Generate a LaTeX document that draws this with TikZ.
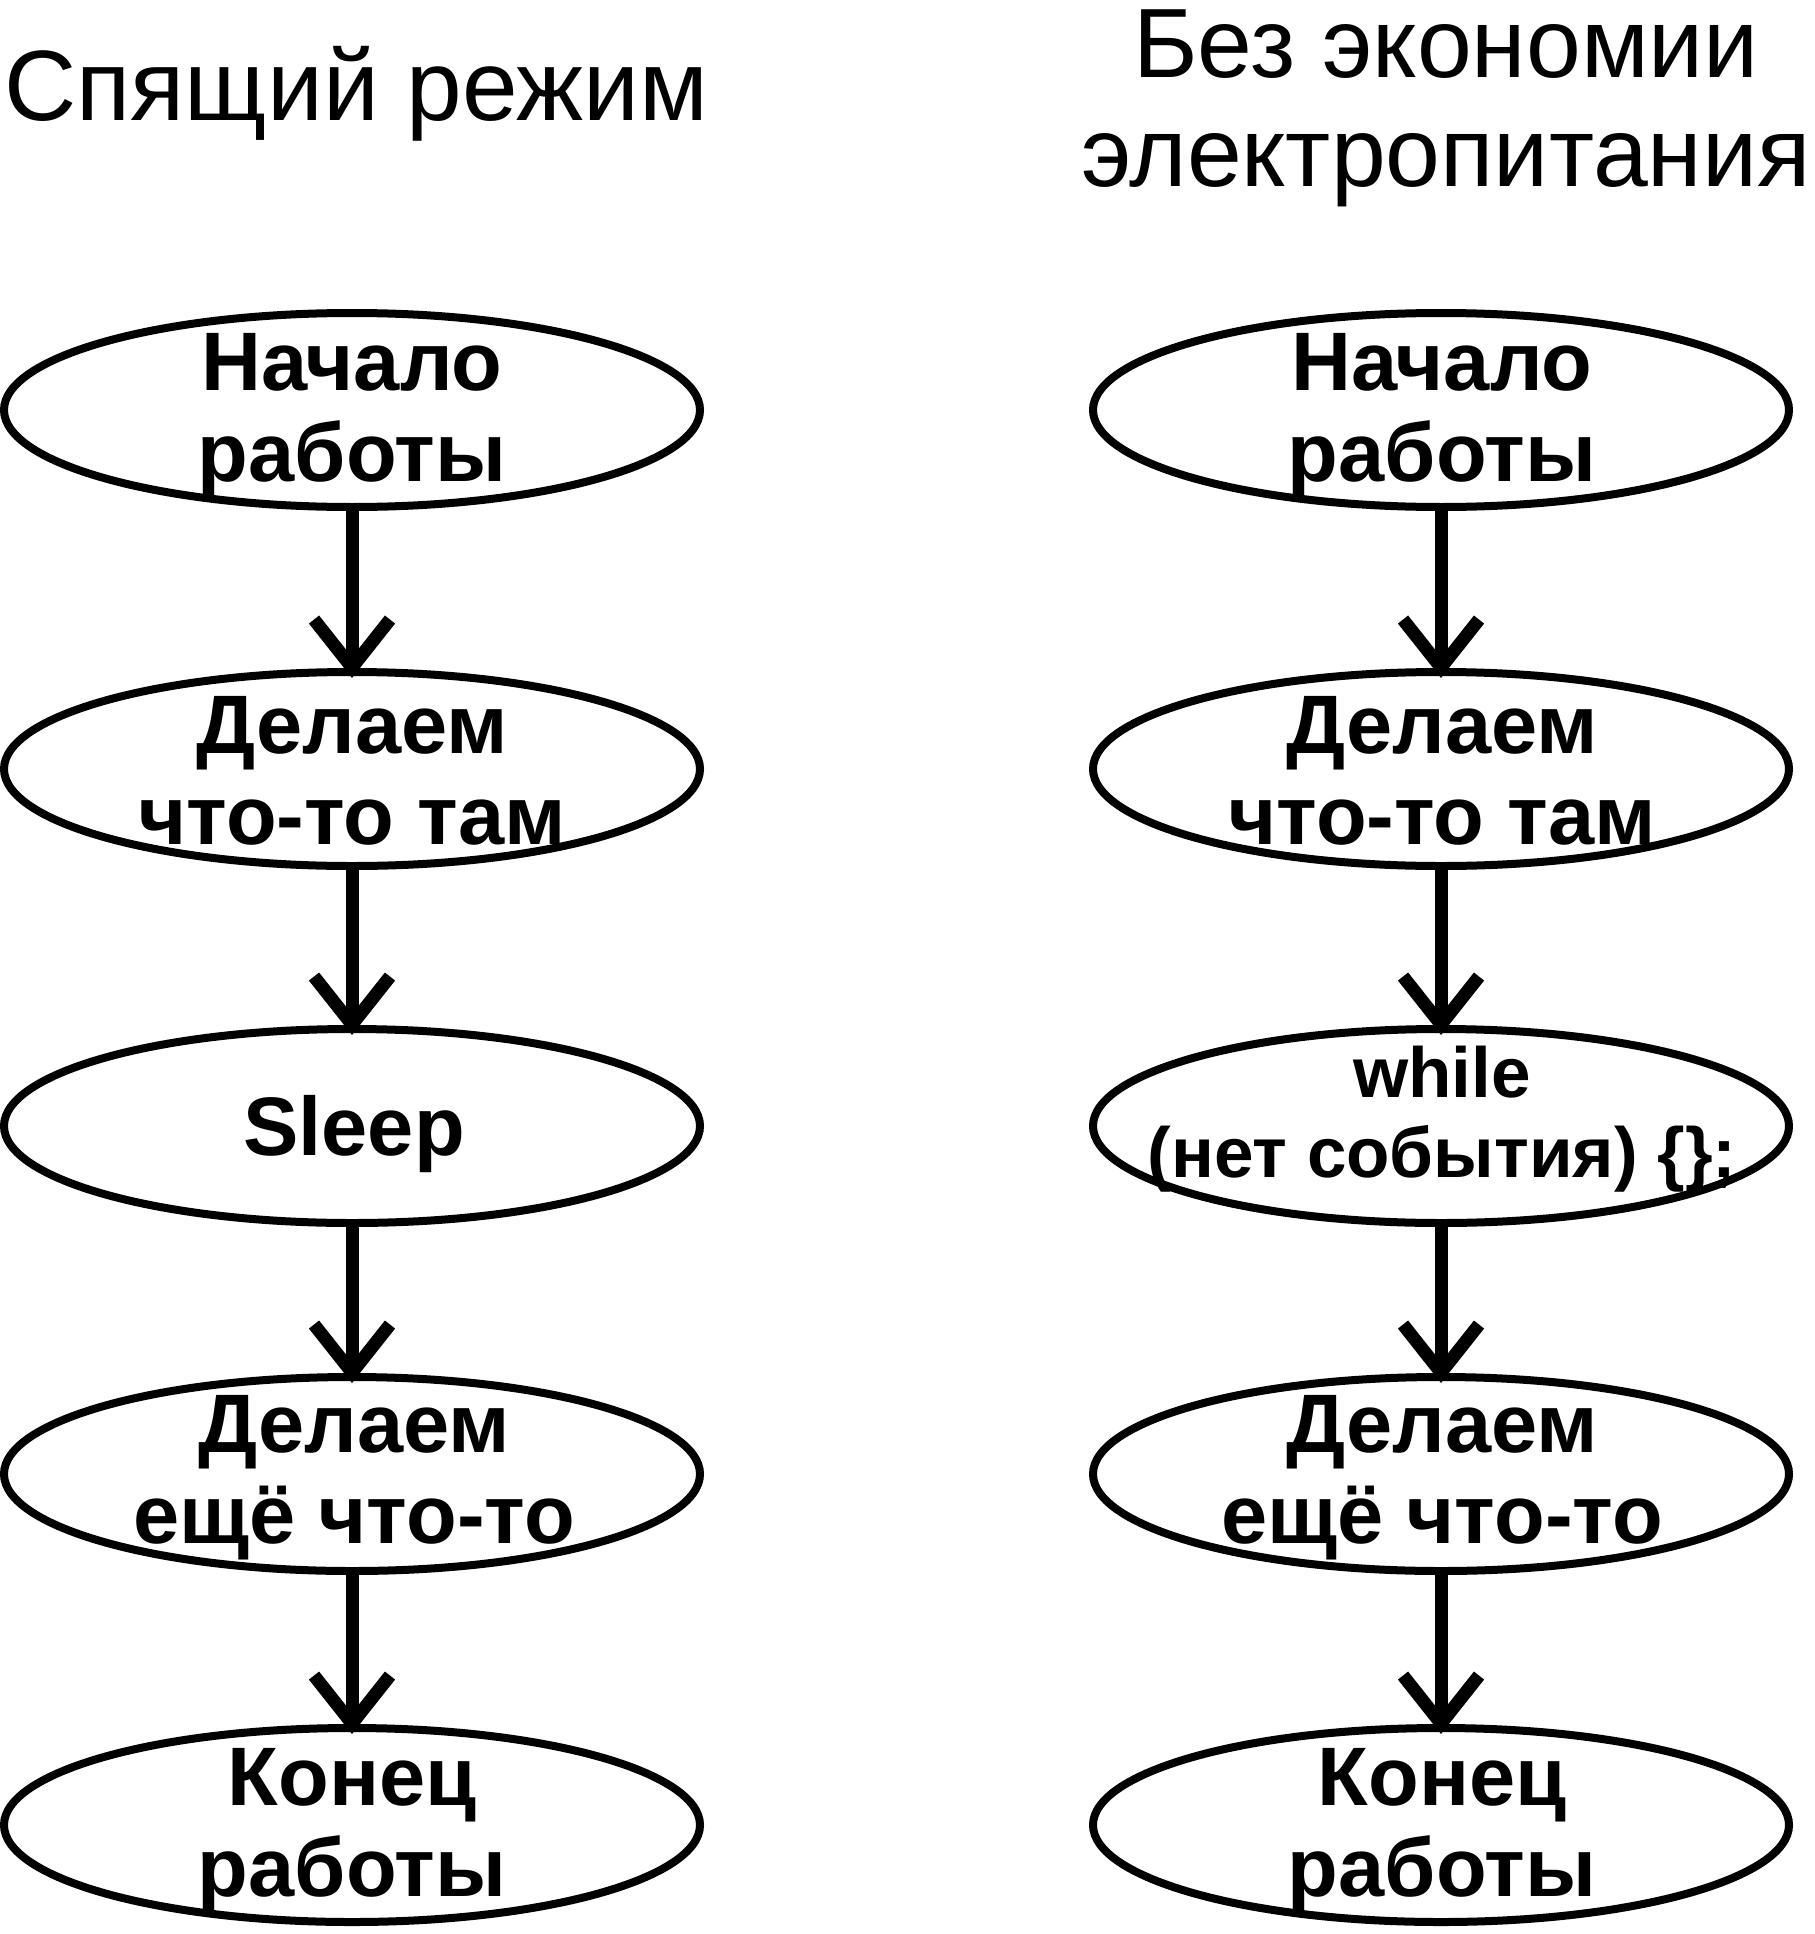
\documentclass[tikz,border=0pt]{standalone}
\usepackage{fontspec}
\setmainfont{Liberation Sans}
\usetikzlibrary{shapes.geometric,arrows.meta}
\tikzset{
  stepbox/.style={ellipse, draw=black, line width=8pt, minimum width=696pt, minimum height=194pt, inner sep=0pt},
  txt/.style={align=center, inner sep=0pt, font=\bfseries\fontsize{83}{91}\selectfont},
  smalltxt/.style={align=center, inner sep=0pt, font=\bfseries\fontsize{71}{80}\selectfont},
  ttl/.style={align=center, inner sep=0pt, font=\fontsize{100}{109}\selectfont},
  ttlr/.style={align=center, inner sep=0pt, font=\fontsize{98.5}{109}\selectfont},
  flow/.style={draw=black, line width=13pt, shorten >=-10pt, -{Straight Barb[length=48pt,width=76pt]}}
}
\begin{document}
\begin{tikzpicture}[x=1pt,y=-1pt]
\useasboundingbox (0,0) rectangle (1814,1934);
% titles
\node[ttl, anchor=base west] (t1) at (4,121) {Спящий режим};
\node[ttlr] (t2) at (1446,108) {Без экономии\\электропитания};
% left column
\node[stepbox] (l1) at (352,410) {};
\node[stepbox] (l2) at (352,769) {};
\node[stepbox] (l3) at (352,1126) {};
\node[stepbox] (l4) at (352,1474) {};
\node[stepbox] (l5) at (352,1825) {};
\node[txt] (l1t) at (352,416) {Начало\\работы};
\node[txt] (l2t) at (352,771) {Делаем\\что-то там};
\node[txt] (l3t) at (354,1134) {Sleep};
\node[txt] (l4t) at (354,1478) {Делаем\\ещё что-то};
\node[txt] (l5t) at (352,1831) {Конец\\работы};
% right column
\node[stepbox] (r1) at (1441,410) {};
\node[stepbox] (r2) at (1441,769) {};
\node[stepbox] (r3) at (1441,1126) {};
\node[stepbox] (r4) at (1441,1474) {};
\node[stepbox] (r5) at (1441,1825) {};
\node[txt] (r1t) at (1442,416) {Начало\\работы};
\node[txt] (r2t) at (1442,771) {Делаем\\что-то там};
\node[smalltxt] (r3t) at (1442,1119) {while\\(нет события) \{\};};
\node[txt] (r4t) at (1442,1478) {Делаем\\ещё что-то};
\node[txt] (r5t) at (1442,1831) {Конец\\работы};
% connectors
\draw[flow] (l1) -- (l2);
\draw[flow] (l2) -- (l3);
\draw[flow] (l3) -- (l4);
\draw[flow] (l4) -- (l5);
\draw[flow] (r1) -- (r2);
\draw[flow] (r2) -- (r3);
\draw[flow] (r3) -- (r4);
\draw[flow] (r4) -- (r5);
\end{tikzpicture}
\end{document}
